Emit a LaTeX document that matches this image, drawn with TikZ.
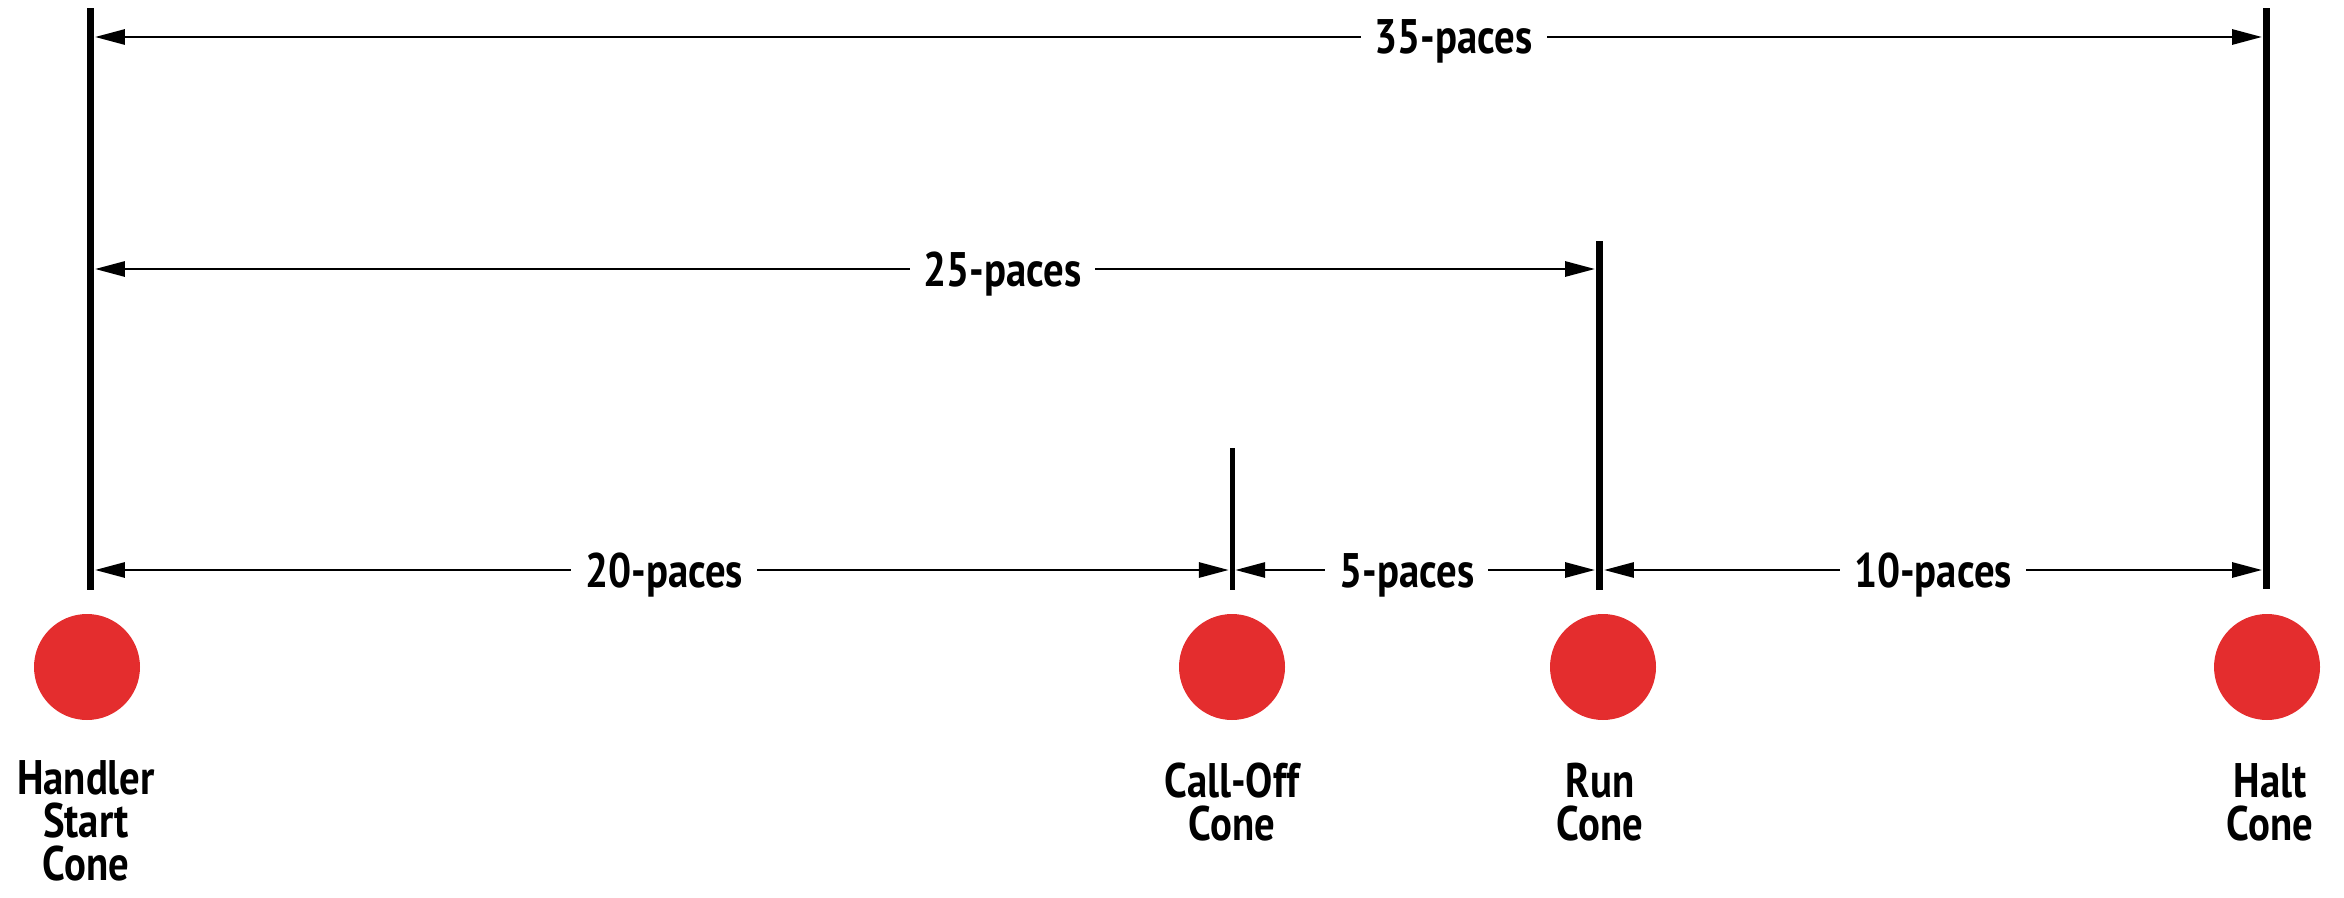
\documentclass[tikz,border=0pt]{standalone}
\usepackage{fontspec}
\setmainfont{PT Sans}[FakeStretch=0.84]
\usetikzlibrary{arrows.meta}
\definecolor{conered}{RGB}{228,45,46}

\begin{document}
\begin{tikzpicture}
\useasboundingbox (0,0) rectangle (23.44,8.97);
\begin{scope}
	\tikzstyle{every node}=[font=\bfseries\fontsize{13.8}{12.2}\selectfont, align=center]
	\tikzstyle{post}=[fill=black, inner sep=0pt, minimum width=0.075cm, anchor=south]
	\tikzstyle{cone}=[circle, fill=conered, minimum size=1.06cm, inner sep=0pt]
	\tikzstyle{pace}=[fill=white, inner xsep=0.14cm, inner ysep=0pt, text height=0.34cm, text depth=0cm]
	\tikzstyle{span}=[line width=0.85pt, {Triangle[length=3mm,width=1.5mm]}-{Triangle[length=3mm,width=1.5mm]}]

	\node[post, minimum height=5.82cm] (ph) at (0.905,3.06) {};
	\node[post, minimum height=1.42cm, minimum width=0.05cm] (pc) at (12.32,3.06) {};
	\node[post, minimum height=3.49cm] (pr) at (15.995,3.06) {};
	\node[post, minimum height=5.81cm] (pt) at (22.665,3.07) {};

	\node[cone] (ch) at (0.87,2.30) {};
	\node[cone] (cc) at (12.32,2.30) {};
	\node[cone] (cr) at (16.03,2.30) {};
	\node[cone] (ct) at (22.67,2.30) {};

	\node[anchor=base] (th) at (0.86,0.17) {Handler\\Start\\Cone};
	\node[anchor=base] (tc) at (12.32,0.57) {Call-Off\\Cone};
	\node[anchor=base] (tr) at (16.00,0.57) {Run\\Cone};
	\node[anchor=base] (tt) at (22.70,0.57) {Halt\\Cone};

	\draw [span] (ph.east |- 0,8.60) -- node[pace, pos=0.627] (l35) {35-paces} (pt.west |- 0,8.60);
	\draw [span] (ph.east |- 0,6.28) -- node[pace, pos=0.605] (l25) {25-paces} (pr.west |- 0,6.28);
	\draw [span] (ph.east |- 0,3.27) -- node[pace, pos=0.502] (l20) {20-paces} (pc.west |- 0,3.27);
	\draw [span] (pc.east |- 0,3.27) -- node[pace, pos=0.477] (l5) {5-paces} (pr.west |- 0,3.27);
	\draw [span] (pr.east |- 0,3.27) -- node[pace, pos=0.50] (l10) {10-paces} (pt.west |- 0,3.27);
\end{scope}
\end{tikzpicture}
\end{document}
